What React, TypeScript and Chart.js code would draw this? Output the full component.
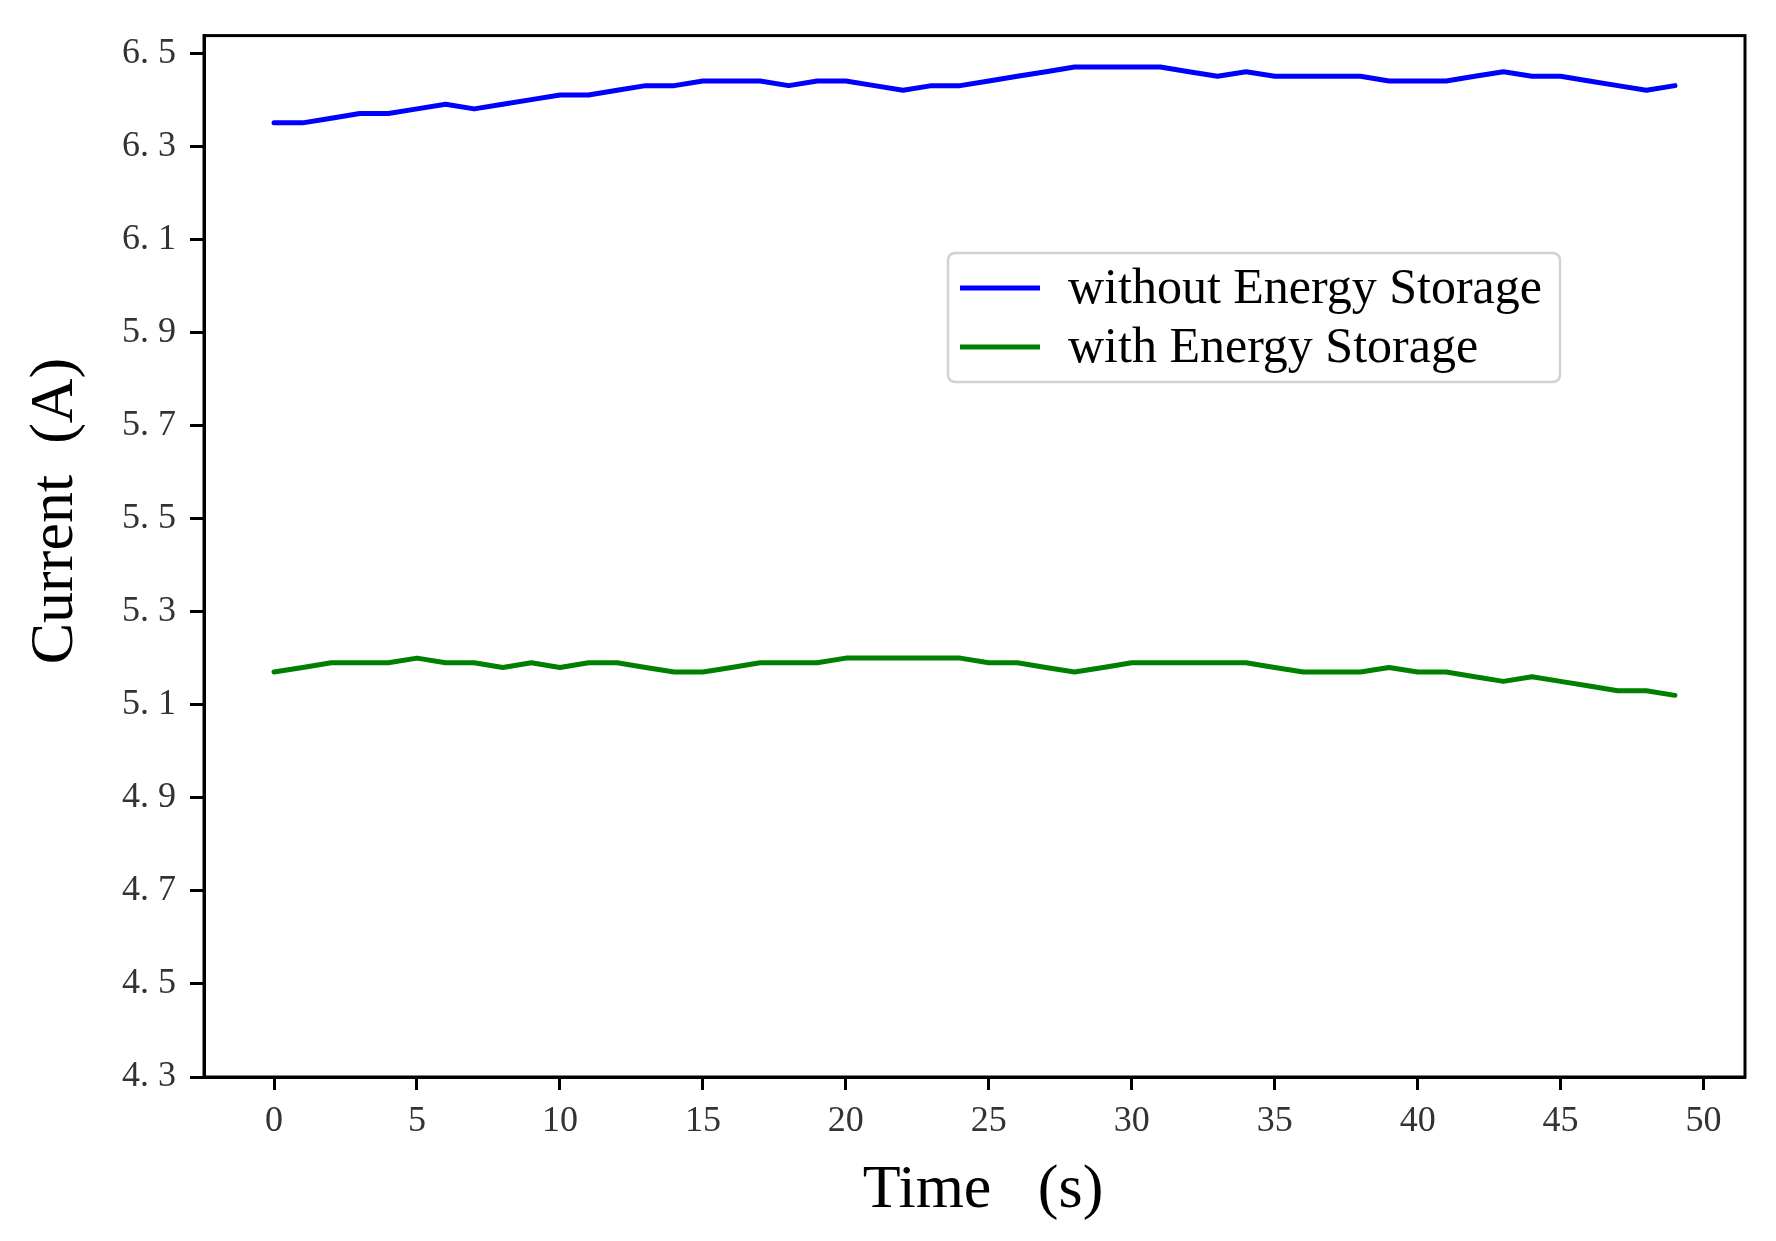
import React, { useEffect, useRef } from "react";
import { Chart, registerables } from "chart.js";

Chart.register(...registerables);

// ---------- data ----------
const timeSeconds = [
  0, 1, 2, 3, 4, 5, 6, 7, 8, 9,
  10, 11, 12, 13, 14, 15, 16, 17, 18, 19,
  20, 21, 22, 23, 24, 25, 26, 27, 28, 29,
  30, 31, 32, 33, 34, 35, 36, 37, 38, 39,
  40, 41, 42, 43, 44, 45, 46, 47, 48, 49,
];

const withoutStorage = [
  6.35, 6.35, 6.36, 6.37, 6.37, 6.38, 6.39, 6.38, 6.39, 6.40,
  6.41, 6.41, 6.42, 6.43, 6.43, 6.44, 6.44, 6.44, 6.43, 6.44,
  6.44, 6.43, 6.42, 6.43, 6.43, 6.44, 6.45, 6.46, 6.47, 6.47,
  6.47, 6.47, 6.46, 6.45, 6.46, 6.45, 6.45, 6.45, 6.45, 6.44,
  6.44, 6.44, 6.45, 6.46, 6.45, 6.45, 6.44, 6.43, 6.42, 6.43,
];

const withStorage = [
  5.17, 5.18, 5.19, 5.19, 5.19, 5.20, 5.19, 5.19, 5.18, 5.19,
  5.18, 5.19, 5.19, 5.18, 5.17, 5.17, 5.18, 5.19, 5.19, 5.19,
  5.20, 5.20, 5.20, 5.20, 5.20, 5.19, 5.19, 5.18, 5.17, 5.18,
  5.19, 5.19, 5.19, 5.19, 5.19, 5.18, 5.17, 5.17, 5.17, 5.18,
  5.17, 5.17, 5.16, 5.15, 5.16, 5.15, 5.14, 5.13, 5.13, 5.12,
];

const xTickValues = [0, 5, 10, 15, 20, 25, 30, 35, 40, 45, 50];
const yTickValues = [4.3, 4.5, 4.7, 4.9, 5.1, 5.3, 5.5, 5.7, 5.9, 6.1, 6.3, 6.5];

const seriesLabels = ["without Energy Storage", "with Energy Storage"];
const seriesColors = ["#0000ff", "#008000"];

const xTitle = "Time   (s)";
const yTitle = "Current  (A)";

// ---------- layout constants ----------
const W = 1776;
const H = 1241;
const SERIF = "'Liberation Serif', 'Times New Roman', serif";

const framePlugin = {
  id: "frame",
  afterDraw(chart: any) {
    const { ctx, chartArea } = chart;
    ctx.save();
    ctx.strokeStyle = "#000";
    ctx.lineWidth = 3;
    ctx.strokeRect(
      chartArea.left,
      chartArea.top,
      chartArea.right - chartArea.left,
      chartArea.bottom - chartArea.top
    );
    ctx.restore();
  },
};

const legendPlugin = {
  id: "boxLegend",
  afterDraw(chart: any) {
    const { ctx } = chart;
    const bx = 948, by = 253, bw = 612, bh = 129, r = 8;
    ctx.save();
    ctx.beginPath();
    ctx.moveTo(bx + r, by);
    ctx.lineTo(bx + bw - r, by);
    ctx.quadraticCurveTo(bx + bw, by, bx + bw, by + r);
    ctx.lineTo(bx + bw, by + bh - r);
    ctx.quadraticCurveTo(bx + bw, by + bh, bx + bw - r, by + bh);
    ctx.lineTo(bx + r, by + bh);
    ctx.quadraticCurveTo(bx, by + bh, bx, by + bh - r);
    ctx.lineTo(bx, by + r);
    ctx.quadraticCurveTo(bx, by, bx + r, by);
    ctx.closePath();
    ctx.fillStyle = "rgba(255,255,255,0.85)";
    ctx.fill();
    ctx.strokeStyle = "#d2d2d2";
    ctx.lineWidth = 2.5;
    ctx.stroke();

    chart.data.datasets.forEach((ds: any, i: number) => {
      const y = 288 + i * 59;
      ctx.beginPath();
      ctx.strokeStyle = ds.borderColor;
      ctx.lineWidth = 5;
      ctx.moveTo(960, y);
      ctx.lineTo(1040, y);
      ctx.stroke();
      ctx.fillStyle = "#000";
      ctx.font = `50px ${SERIF}`;
      ctx.textAlign = "left";
      ctx.textBaseline = "alphabetic";
      ctx.fillText(ds.label, 1068, y + 15);
    });
    ctx.restore();
  },
};

const titlesPlugin = {
  id: "axisTitles",
  afterDraw(chart: any) {
    const { ctx } = chart;
    ctx.save();
    ctx.fillStyle = "#000";
    ctx.font = `62px ${SERIF}`;
    ctx.textAlign = "center";
    ctx.textBaseline = "alphabetic";
    ctx.fillText(xTitle, 983, 1207);

    ctx.translate(56, 511);
    ctx.rotate(-Math.PI / 2);
    ctx.textBaseline = "middle";
    ctx.fillText(yTitle, 0, 0);
    ctx.restore();
  },
};

export default function App() {
  const canvasRef = useRef<HTMLCanvasElement | null>(null);

  useEffect(() => {
    if (!canvasRef.current) return;
    const chart = new Chart(canvasRef.current, {
      type: "line",
      data: {
        datasets: [
          {
            label: seriesLabels[0],
            data: timeSeconds.map((t, i) => ({ x: t, y: withoutStorage[i] })),
            borderColor: seriesColors[0],
            backgroundColor: seriesColors[0],
            borderWidth: 5,
            pointRadius: 0,
            tension: 0,
            fill: false,
            borderJoinStyle: "round",
            borderCapStyle: "round",
          },
          {
            label: seriesLabels[1],
            data: timeSeconds.map((t, i) => ({ x: t, y: withStorage[i] })),
            borderColor: seriesColors[1],
            backgroundColor: seriesColors[1],
            borderWidth: 5,
            pointRadius: 0,
            tension: 0,
            fill: false,
            borderJoinStyle: "round",
            borderCapStyle: "round",
          },
        ],
      },
      options: {
        animation: false,
        responsive: false,
        events: [],
        layout: { padding: { top: 35, right: 31, left: 0, bottom: 0 } },
        plugins: {
          legend: { display: false },
          tooltip: { enabled: false },
          title: { display: false },
        },
        scales: {
          x: {
            type: "linear",
            min: -2.45,
            max: 51.45,
            afterBuildTicks: (scale: any) => {
              scale.ticks = xTickValues.map((v) => ({ value: v }));
            },
            afterFit: (scale: any) => {
              scale.height = 164;
            },
            ticks: {
              autoSkip: false,
              maxRotation: 0,
              minRotation: 0,
              padding: 10,
              color: "#333",
              font: { family: SERIF, size: 36 },
              callback: (v: any) => String(v),
            },
            grid: {
              drawOnChartArea: false,
              drawTicks: true,
              tickLength: 13,
              tickWidth: 3,
              tickColor: "#000",
              color: "#000",
            },
            border: { display: true, color: "#000", width: 3 },
          },
          y: {
            type: "linear",
            min: 4.3,
            max: 6.5375,
            afterBuildTicks: (scale: any) => {
              scale.ticks = yTickValues.map((v) => ({ value: v }));
            },
            afterFit: (scale: any) => {
              scale.width = 204;
            },
            ticks: {
              autoSkip: false,
              padding: 14,
              color: "#333",
              font: { family: SERIF, size: 36 },
              callback: (v: any) => Number(v).toFixed(1).replace(".", ". "),
            },
            grid: {
              drawOnChartArea: false,
              drawTicks: true,
              tickLength: 14,
              tickWidth: 3,
              tickColor: "#000",
              color: "#000",
            },
            border: { display: true, color: "#000", width: 3 },
          },
        },
      },
      plugins: [framePlugin, legendPlugin, titlesPlugin],
    } as any);
    return () => chart.destroy();
  }, []);

  return (
    <div
      style={{
        position: "absolute",
        left: 0,
        top: 0,
        width: W,
        height: H,
        background: "#fff",
      }}
    >
      <canvas
        ref={canvasRef}
        width={W}
        height={H}
        style={{ display: "block", width: W, height: H }}
      />
    </div>
  );
}
